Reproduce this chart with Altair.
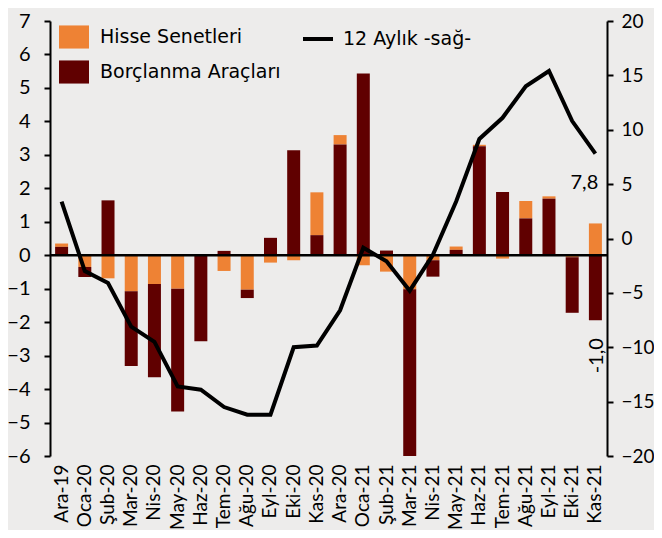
import altair as alt
import pandas as pd

months = ["Ara-19", "Oca-20", "Şub-20", "Mar-20", "Nis-20", "May-20", "Haz-20", "Tem-20",
          "Ağu-20", "Eyl-20", "Eki-20", "Kas-20", "Ara-20", "Oca-21", "Şub-21", "Mar-21",
          "Nis-21", "May-21", "Haz-21", "Tem-21", "Ağu-21", "Eyl-21", "Eki-21", "Kas-21"]
hisse = [0.10, -0.35, -0.69, -1.08, -0.86, -1.00, 0.00, -0.47, -1.03, -0.22, -0.15, 1.28,
         0.28, -0.30, -0.49, -1.02, -0.15, 0.10, 0.04, -0.10, 0.52, 0.07, -0.06, 0.95]
borc = [0.25, -0.30, 1.64, -2.23, -2.79, -3.67, -2.57, 0.13, -0.25, 0.52, 3.14, 0.60,
        3.31, 5.43, 0.14, -4.98, -0.49, 0.16, 3.26, 1.89, 1.10, 1.69, -1.66, -1.94]
yillik = [3.4, -3.0, -4.1, -8.1, -9.5, -13.6, -13.9, -15.5, -16.2, -16.2, -10.0, -9.85,
          -6.6, -0.85, -2.1, -4.8, -1.5, 3.4, 9.15, 11.1, 14.0, 15.4, 10.8, 7.8]

left_ticks = list(range(-6, 8))
right_ticks = list(range(-20, 25, 5))
series_names = ["Hisse Senetleri", "Borçlanma Araçları"]
line_name = "12 Aylık -sağ-"
line_label = ["7,8"]
net_label = ["-1,0"]

FONT = "Lato"
LFONT = "DejaVu Sans"
ORANGE = "#EE8234"
DARK = "#600000"

rows = []
for i, m in enumerate(months):
    h, b = hisse[i], borc[i]
    rows.append({"ay": m, "seri": series_names[0], "deger": h, "sira": 0 if h < 0 else 1})
    rows.append({"ay": m, "seri": series_names[1], "deger": b, "sira": 0 if b >= 0 else 1})
bar_df = pd.DataFrame(rows)
line_df = pd.DataFrame({"ay": months, "deger": yillik, "seri": [line_name] * len(months)})

xenc = alt.X("ay:N", sort=months, title=None,
             scale=alt.Scale(paddingInner=0.44, paddingOuter=0.22),
             axis=alt.Axis(labelAngle=-90, ticks=False, domain=False, labelPadding=8,
                           labelFontSize=19, labelFont=FONT, labelColor="black",
                           labelOverlap=False))

left_axis = alt.Axis(orient="left", values=left_ticks, tickCount=len(left_ticks), grid=False,
                     domainColor="black", domainWidth=2, tickColor="black",
                     tickWidth=2, tickSize=6, labelPadding=14, labelFontSize=20,
                     labelFont=FONT, labelColor="black", labelOverlap=False)
left_scale = alt.Scale(domain=[-6, 7], nice=False, zero=False)

bars = alt.Chart(bar_df).mark_bar().encode(
    x=xenc,
    y=alt.Y("deger:Q", title=None, scale=left_scale, axis=left_axis),
    color=alt.Color("seri:N", scale=alt.Scale(domain=series_names, range=[ORANGE, DARK]),
                    legend=alt.Legend(title=None, orient="none", legendX=9, legendY=1,
                                      symbolType="M-1,-0.77H1V0.77H-1Z", symbolSize=900,
                                      symbolStrokeWidth=0, labelFontSize=19, labelFont=LFONT,
                                      labelColor="black", labelOffset=11, rowPadding=8,
                                      labelLimit=400, padding=0)),
    order=alt.Order("sira:Q"),
)

zero_rule = alt.Chart(pd.DataFrame({"deger": [0]})).mark_rule(
    color="black", strokeWidth=2.5).encode(
    y=alt.Y("deger:Q", title=None, scale=left_scale, axis=left_axis))

left = alt.layer(bars, zero_rule)

yright = alt.Y("deger:Q", title=None,
               scale=alt.Scale(domain=[-20, 20], nice=False, zero=False),
               axis=alt.Axis(orient="right", values=right_ticks, grid=False,
                             domainColor="black", domainWidth=2, tickColor="black",
                             tickWidth=2, tickSize=6, labelPadding=8, labelFontSize=19,
                             labelFont=FONT, labelColor="black", labelOverlap=False))

line = alt.Chart(line_df).mark_line(strokeWidth=4).encode(
    x=alt.X("ay:N", sort=months),
    y=yright,
    stroke=alt.Stroke("seri:N", scale=alt.Scale(domain=[line_name], range=["black"]),
                      legend=alt.Legend(title=None, orient="none", legendX=251, legendY=1,
                                        symbolType="stroke", symbolSize=900,
                                        symbolStrokeWidth=4, labelFontSize=19, labelFont=LFONT,
                                        labelColor="black", labelOffset=8, labelLimit=400,
                                        padding=0)),
)

end_text = alt.Chart(pd.DataFrame({"ay": [months[-1]], "deger": [yillik[-1]], "t": line_label})
                     ).mark_text(fontSize=20, font=FONT, color="black", dx=-11, dy=29,
                                 align="center", baseline="middle").encode(
    x=alt.X("ay:N", sort=months), y=yright, text="t:N")

right = alt.layer(line, end_text)

net_text = alt.Chart(pd.DataFrame({"ay": [months[-1]], "deger": [borc[-1]], "t": net_label})
                     ).mark_text(fontSize=20, font=FONT, color="black", angle=270,
                                 align="right", baseline="middle", dx=-18, dy=2).encode(
    x=alt.X("ay:N", sort=months),
    y=alt.Y("deger:Q", scale=left_scale, axis=None),
    text="t:N")

chart = alt.layer(left, right, net_text).resolve_scale(y="independent").properties(
    width=557, height=435,
    autosize=alt.AutoSizeParams(type="none"),
    padding={"left": 42, "top": 13, "right": 47, "bottom": 74},
    background="#EDECEB",
).configure_view(stroke=None)

chart.save("out.html", embed_options={"renderer": "svg", "actions": False})
